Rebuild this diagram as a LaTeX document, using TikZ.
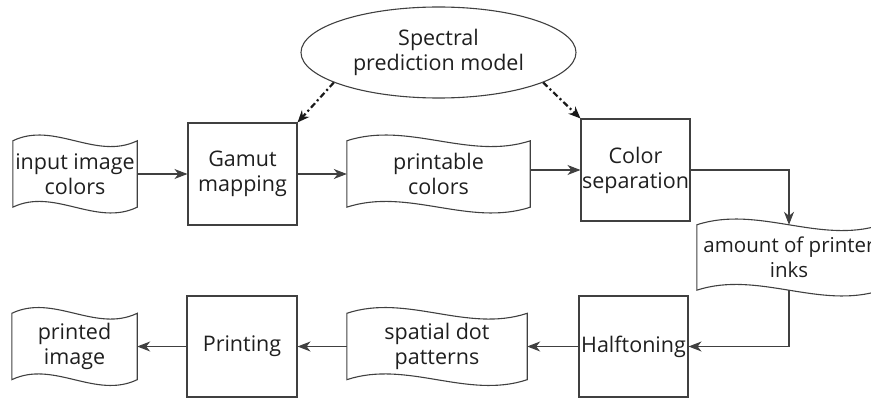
\documentclass[tikz,border=0pt]{standalone}
\usepackage{fontspec}
\setmainfont{Open Sans}
\usetikzlibrary{arrows.meta,calc,shapes.geometric}

% wavy outline (flat sides, S-shaped top and bottom) around a rectangular node
\newcommand\tapeoutline[1]{%
  \draw[outline]
    (#1.north west)
      .. controls ($(#1.north west)!0.333!(#1.north east)+(0,-20)$)
              and ($(#1.north west)!0.667!(#1.north east)+(0,20)$) .. (#1.north east)
    -- (#1.south east)
      .. controls ($(#1.south west)!0.667!(#1.south east)+(0,20)$)
              and ($(#1.south west)!0.333!(#1.south east)+(0,-20)$) .. (#1.south west)
    -- cycle;}

\tikzset{
  outline/.style={draw=black!75, line width=1.1pt},
  lbl/.style={font=\fontsize{21.5}{25}\selectfont, text=black!88, align=center, inner sep=0pt},
  procbox/.style={lbl, outline, rectangle, minimum width=#1},
  tapebox/.style={lbl, rectangle, minimum height=66pt, minimum width=#1},
  flow/.style={draw=black!75, line width=1.1pt, -{Stealth[length=13pt,width=10pt,inset=4pt]}},
  model/.style={draw=black!90, line width=2.2pt, dash pattern=on 6pt off 3pt on 2pt off 3pt,
                -{Stealth[length=12pt,width=10pt,inset=4pt]}},
}

\begin{document}
\begin{tikzpicture}[x=1pt, y=-1pt]
\useasboundingbox (0,0) rectangle (871,401);

% spectral model
\node[lbl, ellipse, outline, minimum width=275pt, minimum height=91pt] (spm) at (438.5,52.5)
  {Spectral\\prediction model};

% upper row
\node[tapebox=124pt] (inp) at (75,174) {input image\\colors};
\node[procbox=109pt, minimum height=102pt] (gam) at (242.5,174) {Gamut\\mapping};
\node[tapebox=183pt] (prn) at (438.5,174) {printable\\colors};
\node[procbox=109pt, minimum height=102pt] (sep) at (635.5,170) {Color\\separation};
\node[tapebox=184pt, minimum height=65pt, font=\fontsize{20.5}{25}\selectfont] (ink) at (789,257.5)
  {amount of printer\\inks};

% lower row
\node[procbox=109pt, minimum height=101pt] (hlf) at (633.5,346.5) {Halftoning};
\node[tapebox=180pt] (dot) at (437,346.5) {spatial dot\\patterns};
\node[procbox=110pt, minimum height=101pt] (pri) at (242,346.5) {Printing};
\node[tapebox=125pt] (out) at (74.5,346.5) {printed\\image};

\foreach \n in {inp,prn,ink,dot,out} {\tapeoutline{\n}}

% process flow
\draw[flow] (inp.east) -- (gam.west);
\draw[flow] (gam.east) -- (prn.west);
\draw[flow] (prn.east |- sep.west) -- (sep.west);
\draw[flow] (sep.east) -| (ink.north);
\draw[flow] (ink.south) |- (hlf.east);
\draw[flow] (hlf.west) -- (dot.east);
\draw[flow] (dot.west) -- (pri.east);
\draw[flow] (pri.west) -- (out.east);

% model feeds
\draw[model] (spm.196) -- (gam.north east);
\draw[model] (spm.344) -- (sep.north west);
\end{tikzpicture}
\end{document}
